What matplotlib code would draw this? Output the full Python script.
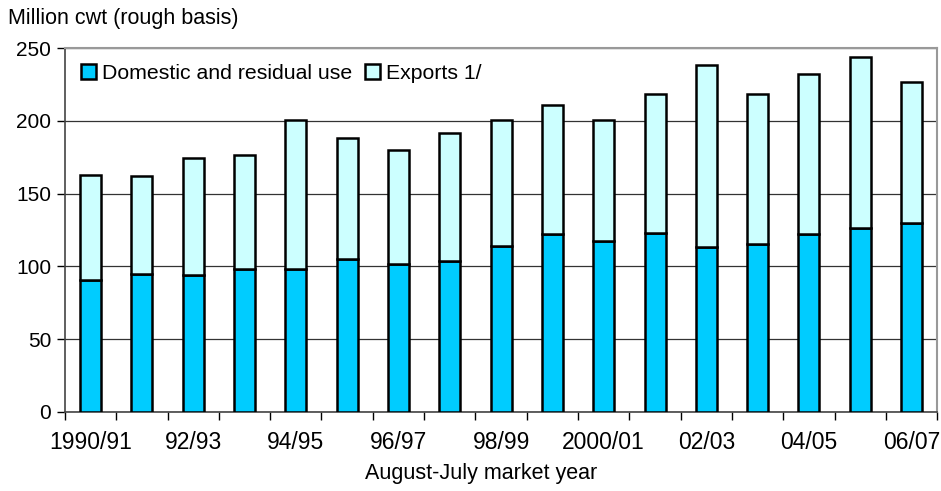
import matplotlib.pyplot as plt
import numpy as np

plt.rcParams['font.family'] = ['Liberation Sans', 'DejaVu Sans']

# Rice use by market year, million cwt (rough basis)
years = ["1990/91", "91/92", "92/93", "93/94", "94/95", "95/96", "96/97", "97/98",
         "98/99", "99/00", "2000/01", "01/02", "02/03", "03/04", "04/05", "05/06", "06/07"]
domestic = [91.0, 95.1, 94.4, 97.9, 98.3, 105.0, 101.7, 103.8,
            113.9, 122.4, 117.6, 123.3, 113.4, 115.1, 122.6, 126.5, 129.7]
total = [162.7, 162.0, 174.2, 176.7, 200.3, 188.4, 180.1, 191.6,
         200.7, 210.8, 200.7, 218.2, 238.1, 218.2, 231.9, 243.8, 226.6]
exports = [t - d for t, d in zip(total, domestic)]

fig = plt.figure(figsize=(9.41, 4.91), dpi=100)
ax = fig.add_axes([0.069, 0.161, 0.927, 0.741])

x = np.arange(len(years))
w = 0.41
ax.bar(x, domestic, w, color="#00CCFF", edgecolor="black", linewidth=1.8,
       label="Domestic and residual use", zorder=3)
ax.bar(x, exports, w, bottom=domestic, color="#CCFFFF", edgecolor="black",
       linewidth=1.8, label="Exports 1/", zorder=3)

ax.set_xlim(-0.5, len(years) - 0.5)
ax.set_ylim(0, 250)
ax.set_yticks(range(0, 251, 50))
ax.yaxis.grid(True, color="#333333", linewidth=0.9, zorder=0)

# labels every other year, tick marks on category boundaries
ax.set_xticks(x[::2])
ax.set_xticklabels(years[::2])
ax.set_xticks(np.arange(-0.5, len(years)), minor=True)
ax.tick_params(axis="x", which="major", length=0, pad=14, labelsize=16.5)
ax.tick_params(axis="x", which="minor", length=6, direction="out", width=1)
ax.tick_params(axis="y", length=6, direction="out", width=1, labelsize=15, pad=4)

for s in ["top", "right"]:
    ax.spines[s].set_color("#999999")
    ax.spines[s].set_linewidth(1.5)
ax.spines["left"].set_color("#444444")
ax.spines["bottom"].set_color("#444444")
ax.spines["left"].set_linewidth(1.2)
ax.spines["bottom"].set_linewidth(1.2)

ax.set_xlabel("August-July market year", fontsize=15.5)
ax.xaxis.set_label_coords(0.477, -0.14)
fig.text(0.009, 0.962, "Million cwt (rough basis)", fontsize=15.5, ha="left", va="center")

ax.legend(loc="upper left", ncol=2, frameon=False, fontsize=15.3,
          handlelength=0.7, handleheight=0.7, handletextpad=0.3,
          columnspacing=0.6, bbox_to_anchor=(0.0, 1.0), borderaxespad=0.35)

fig.savefig("out.png", dpi=100)
